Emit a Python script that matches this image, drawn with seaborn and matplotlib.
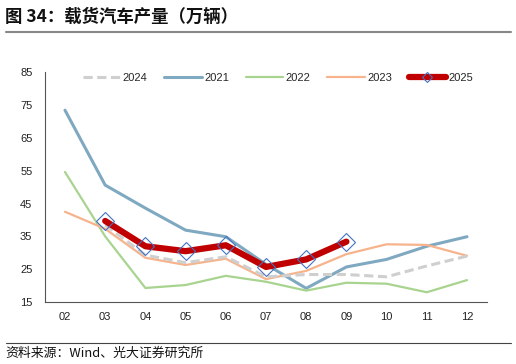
import numpy as np
import pandas as pd
import matplotlib
matplotlib.use('Agg')
import matplotlib.pyplot as plt
import seaborn as sns

sns.set_style('white')
plt.rcParams['font.family'] = ['Liberation Sans', 'Noto Sans CJK SC', 'DejaVu Sans']

months = ['02', '03', '04', '05', '06', '07', '08', '09', '10', '11', '12']

# 万辆
y2021 = [73.4, 50.6, 43.6, 36.9, 34.9, 26.5, 19.2, 25.7, 28.0, 32.0, 34.9]
y2022 = [54.6, 35.0, 19.3, 20.2, 23.0, 21.2, 18.5, 20.9, 20.6, 18.0, 21.7]
y2023 = [42.5, 37.3, 28.5, 26.3, 28.2, 22.0, 24.5, 29.6, 32.6, 32.4, 29.1]
y2024 = [np.nan, 38.5, 29.3, 27.0, 28.8, 22.7, 23.4, 23.4, 22.7, 26.0, 29.0]
y2025 = [np.nan, 39.7, 32.0, 30.5, 32.3, 25.7, 28.0, 33.4, np.nan, np.nan, np.nan]

x = np.arange(len(months))

fig = plt.figure(figsize=(5.16, 3.64), dpi=100)
ax = fig.add_axes([0.087, 0.170, 0.857, 0.632])

sns.lineplot(x=x, y=y2021, ax=ax, color='#7fa8c1', lw=2.2, label='2021', zorder=3)
sns.lineplot(x=x, y=y2022, ax=ax, color='#a8d490', lw=1.6, label='2022', zorder=3)
sns.lineplot(x=x, y=y2023, ax=ax, color='#f6b38c', lw=1.6, label='2023', zorder=3)
sns.lineplot(x=x, y=y2024, ax=ax, color='#cfcfcf', lw=2.2, label='2024', zorder=4,
             dashes=False, linestyle=(0, (3, 1.5)))
sns.lineplot(x=x, y=y2025, ax=ax, color='#c00000', lw=4.5, label='2025', zorder=5,
             marker='D', markersize=9, markerfacecolor='none',
             markeredgecolor='#4472c4', markeredgewidth=0.8)

ax.set_xlim(-0.5, len(months) - 0.5)
ax.set_ylim(15, 85)
ax.set_yticks(np.arange(15, 86, 10))
ax.set_xticks(x)
ax.set_xticklabels(months)
ax.set_xticks(np.arange(-0.5, len(months), 1), minor=True)
ax.tick_params(axis='x', which='major', length=0, pad=7, labelsize=8, colors='#222222')
ax.tick_params(axis='x', which='minor', length=4, direction='in', color='#555555', width=0.8)
ax.tick_params(axis='y', length=4, direction='in', labelsize=8, colors='#222222',
               color='#555555', width=0.8, pad=9)
for s in ['top', 'right']:
    ax.spines[s].set_visible(False)
for s in ['left', 'bottom']:
    ax.spines[s].set_color('#555555')
    ax.spines[s].set_linewidth(0.8)
ax.set_xlabel('')
ax.set_ylabel('')

h, l = ax.get_legend_handles_labels()
order = [l.index(k) for k in ['2024', '2021', '2022', '2023', '2025']]
ax.legend([h[i] for i in order], [l[i] for i in order], ncol=5, frameon=False,
          loc='center', bbox_to_anchor=(0.527, 0.975), fontsize=8, handlelength=3.4,
          columnspacing=1.5, handletextpad=0.2, markerscale=0.55)

fig.text(0.01, 0.955, '图 34：载货汽车产量（万辆）', fontsize=12.5, fontweight='bold',
         family=['Noto Sans CJK SC'], va='center', color='#111111')
fig.add_artist(plt.Line2D([0.012, 0.99], [0.912, 0.912], color='#888888', lw=1.5))
fig.add_artist(plt.Line2D([0.012, 0.99], [0.057, 0.057], color='#444444', lw=0.8))
fig.text(0.01, 0.03, '资料来源：Wind、光大证券研究所', fontsize=9.3,
         family=['Noto Sans CJK SC'], va='center', color='#111111')

fig.savefig('out.png', dpi=100)
